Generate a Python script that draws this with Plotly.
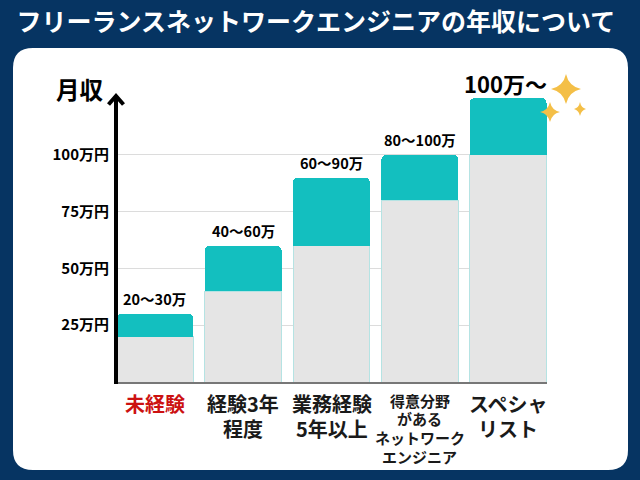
import plotly.graph_objects as go

# ---- data ----
categories = ["未経験", "経験3年<br>程度", "業務経験<br>5年以上",
              "得意分野<br>がある<br>ネットワーク<br>エンジニア", "スペシャ<br>リスト"]
low_values = [20, 40, 60, 80, 100]
high_values = [30, 60, 90, 100, 125]
range_labels = ["20〜30万", "40〜60万", "60〜90万", "80〜100万", "100万〜"]
tick_values = [25, 50, 75, 100, 125]
tick_labels = ["25万円", "50万円", "75万円", "100万円", ""]

FONT = "Noto Sans CJK JP"
NAVY = "#063462"
TEAL = "#13BFBF"
GRAY = "#E5E5E5"

W, H = 640, 480
L, R, T, B = 116, 93, 98, 98
PW, PH = W - L - R, H - T - B


def px(x):
    return (x - L) / PW


def py(y):
    return (H - B - y) / PH


xs = list(range(len(categories)))
fig = go.Figure()
fig.add_trace(go.Bar(x=xs, y=low_values, marker=dict(color=GRAY, line=dict(color="#b5e3e3", width=1)),
                     hoverinfo="skip", showlegend=False))
fig.add_trace(go.Bar(x=xs, y=[h - l for h, l in zip(high_values, low_values)],
                     marker=dict(color=TEAL, line=dict(color=TEAL, width=0)),
                     hoverinfo="skip", showlegend=False))

shapes = []
# white card
x0, y0, x1, y1, r = 13, 48, 628, 470, 20
card = (f"M {px(x0+r)},{py(y0)} L {px(x1-r)},{py(y0)} Q {px(x1)},{py(y0)} {px(x1)},{py(y0+r)} "
        f"L {px(x1)},{py(y1-r)} Q {px(x1)},{py(y1)} {px(x1-r)},{py(y1)} "
        f"L {px(x0+r)},{py(y1)} Q {px(x0)},{py(y1)} {px(x0)},{py(y1-r)} "
        f"L {px(x0)},{py(y0+r)} Q {px(x0)},{py(y0)} {px(x0+r)},{py(y0)} Z")
shapes.append(dict(type="path", xref="paper", yref="paper", path=card,
                   fillcolor="white", line=dict(width=0), layer="below"))

# arrow axis
shapes.append(dict(type="line", xref="paper", yref="paper", x0=px(116), y0=py(384), x1=px(116), y1=py(96),
                   line=dict(color="black", width=4), layer="above"))
shapes.append(dict(type="path", xref="paper", yref="paper",
                   path=f"M {px(108.5)},{py(104.5)} L {px(116)},{py(96)} L {px(123.5)},{py(104.5)}",
                   line=dict(color="black", width=4), layer="above"))


def sparkle(cx, cy, rx, ry):
    k = 0.18
    return (f"M {px(cx)},{py(cy-ry)} Q {px(cx+rx*k)},{py(cy-ry*k)} {px(cx+rx)},{py(cy)} "
            f"Q {px(cx+rx*k)},{py(cy+ry*k)} {px(cx)},{py(cy+ry)} "
            f"Q {px(cx-rx*k)},{py(cy+ry*k)} {px(cx-rx)},{py(cy)} "
            f"Q {px(cx-rx*k)},{py(cy-ry*k)} {px(cx)},{py(cy-ry)} Z")


for cx, cy, rx, ry in [(566, 89, 15, 15), (550, 112, 10, 10), (580, 109, 6, 7)]:
    shapes.append(dict(type="path", xref="paper", yref="paper", path=sparkle(cx, cy, rx, ry),
                       fillcolor="#F4BF47", line=dict(width=0), layer="above"))

annotations = []
for i, lab in enumerate(range_labels):
    big = i == len(range_labels) - 1
    annotations.append(dict(x=xs[i], y=high_values[i], xref="x", yref="y", text=lab, showarrow=False,
                            xanchor="center", yanchor="bottom",
                            yshift=-3 if big else 3, xshift=-3 if big else 0,
                            font=dict(family=FONT, size=22 if big else 14.5, color="black", weight=700)))
for i, cat in enumerate(categories):
    small = i == 3
    lines = cat.split("<br>")
    first = 400 if small else 404
    step = 18.7 if small else 24.5
    for j, line in enumerate(lines):
        annotations.append(dict(x=xs[i], y=py(first + j * step), xref="x", yref="paper", text=line,
                                showarrow=False, xanchor="center", yanchor="middle", align="center",
                                font=dict(family=FONT, size=15 if small else 20,
                                          color="#cc1111" if i == 0 else "#1a1a1a", weight=700)))
annotations.append(dict(x=px(80), y=py(89), xref="paper", yref="paper", text="月収", showarrow=False,
                        xanchor="center", yanchor="middle",
                        font=dict(family=FONT, size=23.5, color="black", weight=700)))

fig.update_layout(
    width=W, height=H,
    margin=dict(l=L, r=R, t=T, b=B),
    paper_bgcolor=NAVY, plot_bgcolor="rgba(0,0,0,0)",
    barmode="stack", bargap=0.13, barcornerradius=5,
    title=dict(text="フリーランスネットワークエンジニアの年収について", x=316 / W, xanchor="center",
               y=1 - 22 / H, yanchor="middle", yref="container",
               font=dict(family=FONT, size=25, color="white", weight=700)),
    shapes=shapes, annotations=annotations,
    xaxis=dict(range=[-0.44, 4.44], showticklabels=False, showgrid=False, zeroline=False,
               showline=True, linecolor="#777777", linewidth=1.5, fixedrange=True),
    yaxis=dict(range=[0, 125], tickvals=tick_values, ticktext=tick_labels, showgrid=True,
               gridcolor="#dcdcdc", gridwidth=1, zeroline=False, showline=False, ticks="",
               ticklabelstandoff=6,
               tickfont=dict(family=FONT, size=15, color="black", weight=700), fixedrange=True),
)

fig.write_html("out.html", config={"displayModeBar": False},
               post_script="document.body.style.margin='0';document.body.style.overflow='hidden';")
